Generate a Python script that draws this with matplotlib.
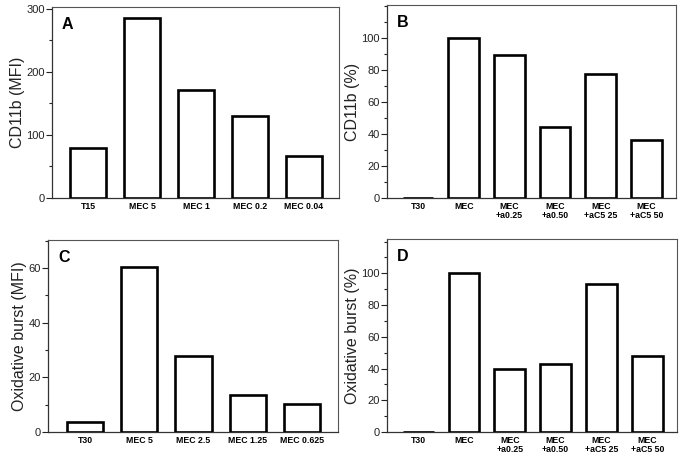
import matplotlib.pyplot as plt
from matplotlib.ticker import MultipleLocator, FixedLocator

plt.rcParams['font.family'] = ['Liberation Sans', 'DejaVu Sans']

# panel A
labels_a = ['T15', 'MEC 5', 'MEC 1', 'MEC 0.2', 'MEC 0.04']
values_a = [79, 285, 172, 130, 67]
# panel B
labels_b = ['T30', 'MEC', 'MEC\n+a0.25', 'MEC\n+a0.50', 'MEC\n+aC5 25', 'MEC\n+aC5 50']
values_b = [0, 100, 89, 44.6, 77.5, 36]
# panel C
labels_c = ['T30', 'MEC 5', 'MEC 2.5', 'MEC 1.25', 'MEC 0.625']
values_c = [3.7, 60.4, 28, 13.4, 10.1]
# panel D
labels_d = ['T30', 'MEC', 'MEC\n+a0.25', 'MEC\n+a0.50', 'MEC\n+aC5 25', 'MEC\n+aC5 50']
values_d = [0, 100, 39.7, 42.6, 93, 47.7]

fig = plt.figure(figsize=(6.85, 4.57), dpi=100)

panels = [
    ('A', labels_a, values_a, 'CD11b (MFI)', 303, [0, 100, 200, 300], 50, [0.0759, 0.5667, 0.419, 0.418], (-0.67, 4.65)),
    ('B', labels_b, values_b, 'CD11b (%)', 120.5, [0, 20, 40, 60, 80, 100], 10, [0.565, 0.5667, 0.4219, 0.4223], (-0.68, 5.65)),
    ('C', labels_c, values_c, 'Oxidative burst (MFI)', 70.3, [0, 20, 40, 60], 10, [0.0701, 0.0547, 0.4234, 0.4201], (-0.68, 4.66)),
    ('D', labels_d, values_d, 'Oxidative burst (%)', 121.6, [0, 20, 40, 60, 80, 100], 10, [0.565, 0.0547, 0.4234, 0.4223], (-0.68, 5.65)),
]

for letter, labels, values, ylabel, ytop, majors, minor, pos, xl in panels:
    ax = fig.add_axes(pos)
    x = range(len(values))
    ax.bar(x, values, width=0.67, color='white', edgecolor='black', linewidth=1.9, zorder=3)
    ax.set_xlim(*xl)
    ax.set_ylim(0, ytop)
    ax.yaxis.set_major_locator(FixedLocator(majors))
    ax.yaxis.set_minor_locator(MultipleLocator(minor))
    ax.tick_params(axis='y', which='major', length=4, width=0.8, labelsize=8, pad=1, colors='#222222')
    ax.tick_params(axis='y', which='minor', length=2.5, width=0.8, colors='#222222')
    ax.set_xticks(list(x))
    ax.set_xticklabels(labels, fontsize=6.3, fontweight='bold', linespacing=1.0)
    ax.tick_params(axis='x', length=0, pad=3)
    ax.set_ylabel(ylabel, fontsize=11.5, color='#222222', labelpad=1)
    for side in ['left', 'bottom']:
        ax.spines[side].set_linewidth(0.9)
        ax.spines[side].set_color('#333333')
    for side in ['top', 'right']:
        ax.spines[side].set_linewidth(0.8)
        ax.spines[side].set_color('#555555')
    ax.text(0.035, 0.91, letter, transform=ax.transAxes, fontsize=11.5, fontweight='bold',
            va='center', ha='left')

fig.savefig('out.png', dpi=100)
